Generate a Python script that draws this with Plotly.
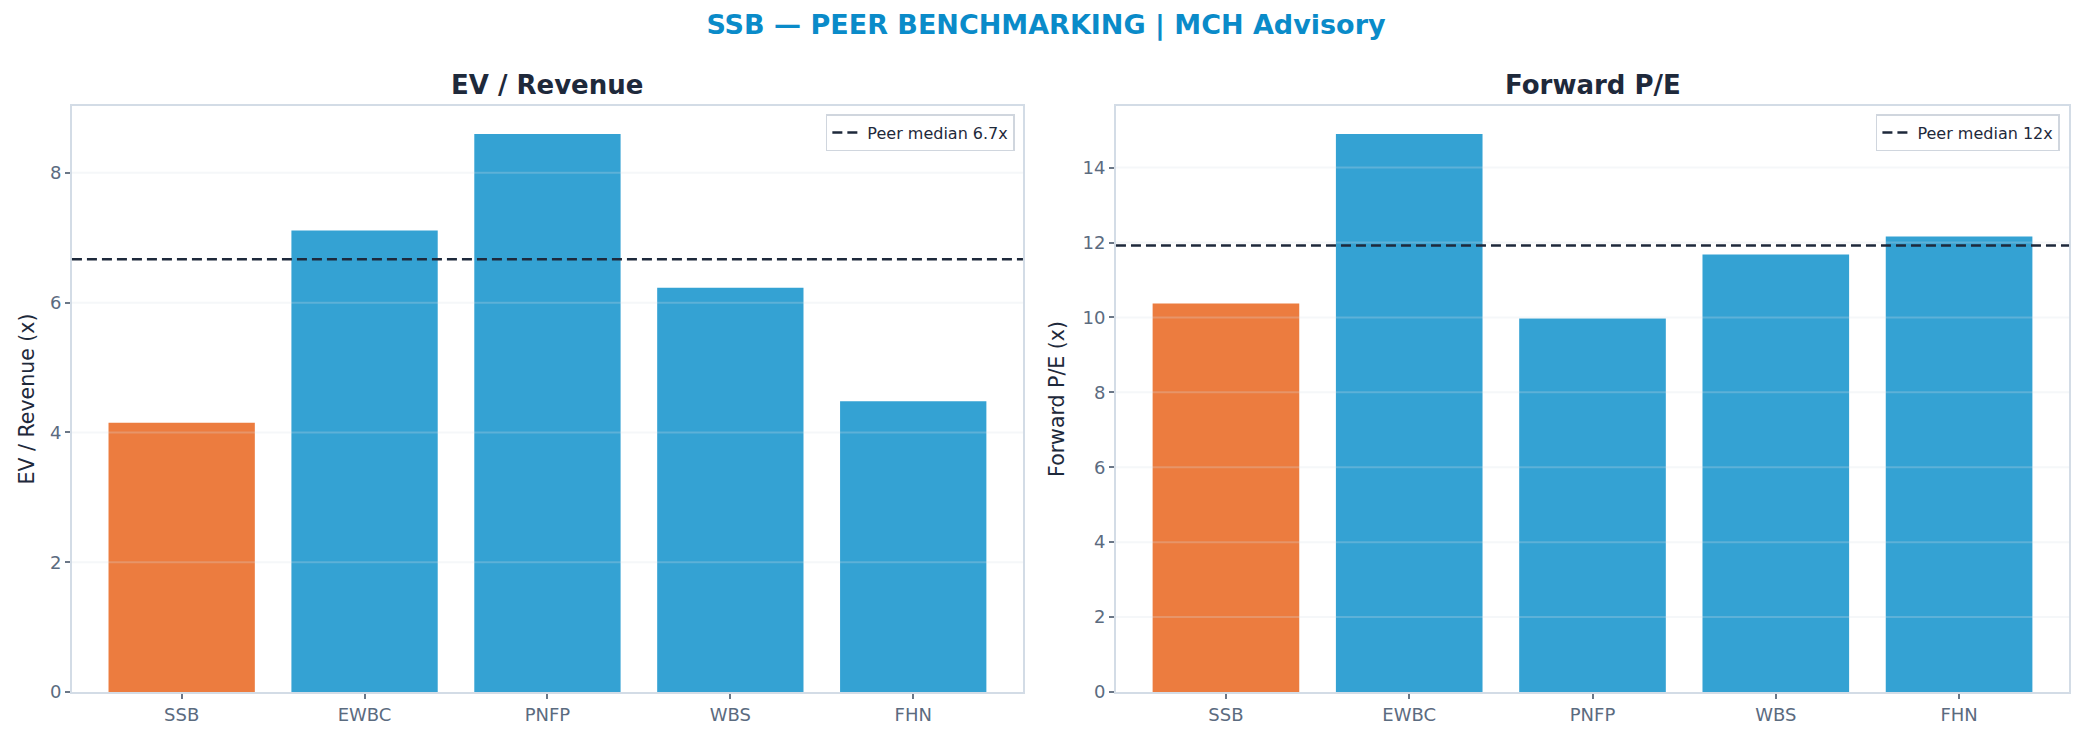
import plotly.graph_objects as go
from plotly.subplots import make_subplots
import statistics

# peer benchmarking data
tickers = ["SSB", "EWBC", "PNFP", "WBS", "FHN"]
ev_revenue = [4.15, 7.11, 8.60, 6.23, 4.48]
forward_pe = [10.37, 14.90, 9.97, 11.68, 12.16]
target = "SSB"

orange = "#EC7C3F"
blue = "#34A2D3"
dark = "#1E293B"
grey_txt = "#5B6B7F"
frame = "#D3DCE6"
grid = "rgba(215,222,230,0.25)"

colors = [orange if t == target else blue for t in tickers]

fig = make_subplots(rows=1, cols=2, subplot_titles=("EV / Revenue", "Forward P/E"))

fig.add_trace(go.Bar(x=tickers, y=ev_revenue, marker_color=colors, marker_line_width=0,
                     width=0.8, showlegend=False), row=1, col=1)
fig.add_trace(go.Bar(x=tickers, y=forward_pe, marker_color=colors, marker_line_width=0,
                     width=0.8, showlegend=False), row=1, col=2)

ev_top = max(ev_revenue) * 1.05
pe_top = max(forward_pe) * 1.05

# grid drawn above the bars like the original
for v in range(2, int(ev_top) + 1, 2):
    fig.add_hline(y=v, line=dict(color=grid, width=2), layer="above", row=1, col=1)
for v in range(2, int(pe_top) + 1, 2):
    fig.add_hline(y=v, line=dict(color=grid, width=2), layer="above", row=1, col=2)

# peer medians (excluding the target)
med_ev = statistics.median([v for t, v in zip(tickers, ev_revenue) if t != target])
med_pe = statistics.median([v for t, v in zip(tickers, forward_pe) if t != target])

fig.add_hline(y=med_ev, line=dict(color=dark, width=2.5, dash="10px,5px"), row=1, col=1,
              showlegend=True, name="Peer median %.1fx" % med_ev, legend="legend")
fig.add_hline(y=med_pe, line=dict(color=dark, width=2.5, dash="10px,5px"), row=1, col=2,
              showlegend=True, name="Peer median %.0fx" % med_pe, legend="legend2")

axis_common = dict(showline=True, linecolor=frame, linewidth=2, mirror=True,
                   ticks="outside", ticklen=5, tickcolor="#6B7787", tickwidth=1.5,
                   tickfont=dict(family="DejaVu Sans", size=18, color=grey_txt),
                   layer="above traces", showgrid=False)

fig.update_xaxes(**axis_common, range=[-0.6, 4.6])
fig.update_yaxes(**axis_common, zeroline=False)
fig.update_yaxes(range=[0, ev_top], dtick=2, row=1, col=1,
                 title=dict(text="EV / Revenue (x)", font=dict(family="DejaVu Sans", size=20.5, color=dark),
                            standoff=10))
fig.update_yaxes(range=[0, pe_top], dtick=2, row=1, col=2,
                 title=dict(text="Forward P/E (x)", font=dict(family="DejaVu Sans", size=20.5, color=dark),
                            standoff=12))

# the page sits 8px in from the window edge, so the figure is 16px smaller
dom1 = [0.0308, 0.4889]
dom2 = [0.5337, 0.9928]
fig.update_xaxes(domain=dom1, row=1, col=1)
fig.update_xaxes(domain=dom2, row=1, col=2)

for ann, dom in zip(fig.layout.annotations, [dom1, dom2]):
    ann.font = dict(family="DejaVu Sans", size=26, color=dark)
    ann.text = "<b>" + ann.text + "</b>"
    ann.x = (dom[0] + dom[1]) / 2
    ann.yshift = 4

legend_style = dict(bgcolor="white", bordercolor="#D0D6DE", borderwidth=1.5,
                    font=dict(family="DejaVu Sans", size=16, color=dark),
                    xanchor="right", yanchor="top", y=0.986)

fig.update_layout(
    title=dict(text="<b>SSB — PEER BENCHMARKING | MCH Advisory</b>", x=0.5, xanchor="center",
               y=0.977, yanchor="middle",
               font=dict(family="DejaVu Sans", size=27, color="#0A8BC9")),
    width=2076, height=734,
    margin=dict(l=0, r=0, t=98, b=50),
    paper_bgcolor="white", plot_bgcolor="white",
    legend=dict(x=0.485, **legend_style),
    legend2=dict(x=0.9884, **legend_style),
)

fig.write_html("out.html")
